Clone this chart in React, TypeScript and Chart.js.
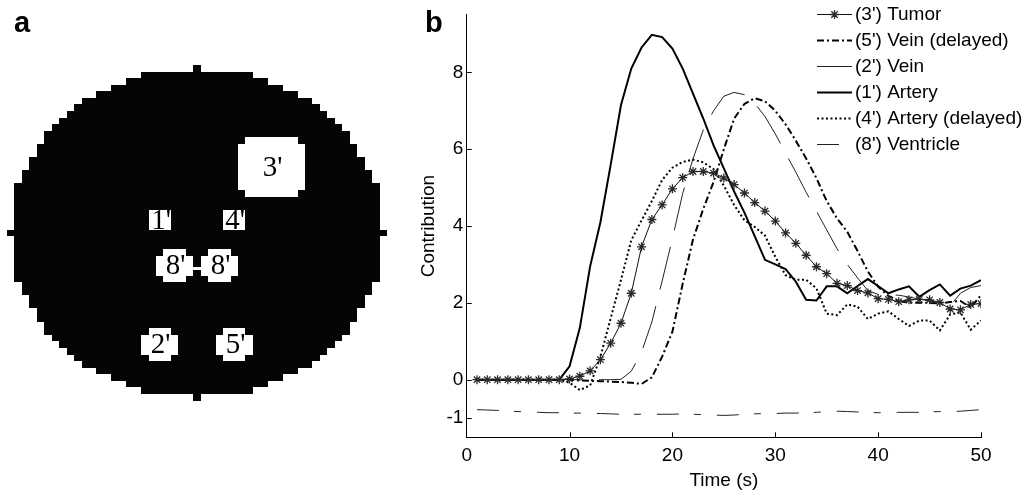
import { useEffect, useRef } from "react";
import { Chart, registerables } from "chart.js";

Chart.register(...registerables);

// ---------- Panel b: time courses ----------
const time = [
  1, 2, 3, 4, 5, 6, 7, 8, 9, 10, 11, 12, 13, 14, 15, 16, 17, 18, 19, 20, 21, 22, 23, 24, 25,
  26, 27, 28, 29, 30, 31, 32, 33, 34, 35, 36, 37, 38, 39, 40, 41, 42, 43, 44, 45, 46, 47, 48, 49, 50,
];

const tumor = [
  0, 0, 0, 0, 0, 0, 0, 0, 0, 0.02,
  0.09, 0.23, 0.52, 0.95, 1.47, 2.25, 3.46, 4.17, 4.55, 4.97,
  5.26, 5.42, 5.42, 5.38, 5.25, 5.08, 4.86, 4.61, 4.39, 4.13,
  3.82, 3.55, 3.24, 2.94, 2.76, 2.51, 2.45, 2.32, 2.26, 2.11,
  2.09, 2.03, 2.08, 2.09, 2.08, 2.01, 1.84, 1.82, 1.96, 1.98,
];

const veinDelayed = [
  0, 0, 0, 0, 0, 0, 0, 0, 0, 0,
  -0.02, -0.03, -0.04, -0.05, -0.06, -0.08, -0.11, 0.06, 0.6, 1.25,
  2.5, 3.65, 4.45, 5.15, 6.0, 6.8, 7.18, 7.33, 7.25, 7.0,
  6.65, 6.22, 5.76, 5.25, 4.65, 4.2, 3.85, 3.35, 2.82, 2.42,
  2.18, 2.05, 2.0, 2.0, 2.0, 1.99, 2.02, 2.05, 1.88, 2.2,
];

const vein = [
  0, 0, 0, 0, 0, 0, 0, 0, 0, 0,
  0, 0, 0, 0, 0.01, 0.22, 0.72, 1.5, 2.57, 3.67,
  4.85, 5.75, 6.5, 7.0, 7.38, 7.48, 7.42, 7.2, 6.85, 6.4,
  5.9, 5.4, 4.88, 4.39, 3.9, 3.41, 3.0, 2.65, 2.32, 2.22,
  2.2, 2.2, 2.15, 2.1, 2.05, 2.0, 1.92, 2.25, 2.4, 2.45,
];

const artery = [
  0, 0, 0, 0, 0, 0, 0, 0, 0, 0.35,
  1.35, 2.95, 4.1, 5.6, 7.15, 8.1, 8.65, 8.98, 8.92, 8.62,
  8.1, 7.45, 6.8, 6.1, 5.5, 4.9, 4.35, 3.74, 3.12, 3.0,
  2.88, 2.55, 2.08, 2.06, 2.43, 2.43, 2.25, 2.44, 2.62, 2.44,
  2.25, 2.35, 2.43, 2.16, 2.33, 2.48, 2.19, 2.37, 2.45, 2.59,
];

const arteryDelayed = [
  0, 0, 0, 0, 0, 0, 0, 0, 0, -0.08,
  -0.27, -0.15, 0.6, 1.6, 2.6, 3.63, 4.15, 4.65, 5.2, 5.52,
  5.67, 5.73, 5.66, 5.48, 5.05, 4.55, 4.15, 3.98, 3.75, 3.2,
  2.72, 2.6, 2.6, 2.38, 1.72, 1.68, 1.96, 1.9, 1.58, 1.72,
  1.78, 1.58, 1.4, 1.54, 1.54, 1.28, 1.7, 1.75, 1.3, 1.54,
];

const ventricle = [
  -0.78, -0.79, -0.8, -0.82, -0.83, -0.84, -0.85, -0.86, -0.86, -0.87,
  -0.87, -0.88, -0.88, -0.89, -0.9, -0.9, -0.9, -0.9, -0.9, -0.9,
  -0.89, -0.9, -0.91, -0.92, -0.93, -0.92, -0.9, -0.89, -0.88, -0.88,
  -0.87, -0.87, -0.86, -0.85, -0.83, -0.82, -0.83, -0.84, -0.85, -0.86,
  -0.86, -0.85, -0.85, -0.85, -0.84, -0.83, -0.83, -0.82, -0.8, -0.78,
];

const seriesLabels = [
  "(3') Tumor",
  "(5') Vein (delayed)",
  "(2') Vein",
  "(1') Artery",
  "(4') Artery (delayed)",
  "(8') Ventricle",
];

const xTickValues = [0, 10, 20, 30, 40, 50];
const yTickValues = [-1, 0, 2, 4, 6, 8];

// ---------- Panel a: region-of-interest map ----------
const GRID_SIZE = 51;
const DISC_RADIUS = 25;
const roiLabels = ["3'", "1'", "4'", "8'", "8'", "2'", "5'"];
const roiCols = [35, 20, 30, 22, 28, 20, 30];
const roiRows = [15, 23, 23, 30, 30, 42, 42];
const roiHalf = [4, 1, 1, 2, 2, 2, 2];

const SANS = '"Liberation Sans", Arial, Helvetica, sans-serif';
const SERIF = '"Liberation Serif", "Times New Roman", serif';

Chart.defaults.font.family = SANS;
Chart.defaults.color = "#000";

const pts = (vals: number[]) => vals.map((v, i) => ({ x: time[i], y: v }));

function drawStar(ctx: CanvasRenderingContext2D, x: number, y: number, r: number) {
  const d = r * Math.SQRT1_2;
  ctx.beginPath();
  ctx.moveTo(x - r, y);
  ctx.lineTo(x + r, y);
  ctx.moveTo(x, y - r);
  ctx.lineTo(x, y + r);
  ctx.moveTo(x - d, y - d);
  ctx.lineTo(x + d, y + d);
  ctx.moveTo(x - d, y + d);
  ctx.lineTo(x + d, y - d);
  ctx.stroke();
}

// Pixelated disc with white ROI blocks and their labels
const maskPlugin = {
  id: "roiMask",
  beforeDatasetsDraw(chart: any) {
    const { ctx, scales } = chart;
    const px = (c: number) => Math.round(scales.x.getPixelForValue(c));
    const py = (r: number) => Math.round(scales.y.getPixelForValue(r));
    const cell = (c: number, r: number, w = 1) =>
      ctx.fillRect(px(c), py(r), px(c + w) - px(c), py(r + 1) - py(r));

    ctx.save();
    ctx.fillStyle = "#050505";
    for (let r = 0; r < GRID_SIZE; r++) {
      const dy = r - DISC_RADIUS;
      const half = Math.floor(Math.sqrt(DISC_RADIUS * DISC_RADIUS - dy * dy));
      cell(DISC_RADIUS - half, r, 2 * half + 1);
    }

    ctx.fillStyle = "#fff";
    roiCols.forEach((cc, i) => {
      const h = roiHalf[i];
      const rr = roiRows[i];
      for (let dr = -h; dr <= h; dr++) {
        for (let dc = -h; dc <= h; dc++) {
          if (h >= 2 && Math.abs(dr) === h && Math.abs(dc) === h) continue;
          cell(cc + dc, rr + dr);
        }
      }
    });

    // thin bridge joining the two ventricle blocks
    const a = roiCols[3], b = roiCols[4];
    const midRow = roiRows[3] + 0.5;
    const bx0 = px(a + roiHalf[3] + 1);
    const bx1 = px(b - roiHalf[4]);
    const by = scales.y.getPixelForValue(midRow + 0.45);
    ctx.fillRect(bx0, Math.round(by - 2), bx1 - bx0, 3);

    // labels, clipped to their block
    ctx.fillStyle = "#000";
    ctx.textAlign = "center";
    ctx.textBaseline = "middle";
    roiLabels.forEach((lab, i) => {
      const h = roiHalf[i];
      const x0 = px(roiCols[i] - h);
      const x1 = px(roiCols[i] + h + 1);
      const y0 = py(roiRows[i] - h);
      const y1 = py(roiRows[i] + h + 1);
      ctx.save();
      ctx.beginPath();
      ctx.rect(x0, y0, x1 - x0, y1 - y0);
      ctx.clip();
      ctx.font = `29px ${SERIF}`;
      ctx.fillText(lab, (x0 + x1) / 2 + 1, (y0 + y1) / 2 + 1);
      ctx.restore();
    });

    ctx.font = `bold 29px ${SANS}`;
    ctx.textAlign = "left";
    ctx.textBaseline = "alphabetic";
    ctx.fillText("a", 14, 31.7);
    ctx.restore();
  },
};

// Tick marks drawn on the inside of the axes
const inwardTicksPlugin = {
  id: "inwardTicks",
  afterDraw(chart: any) {
    const { ctx, chartArea, scales } = chart;
    ctx.save();
    ctx.strokeStyle = "#000";
    ctx.lineWidth = 1;
    ctx.beginPath();
    xTickValues.forEach((v) => {
      if (v === 0) return;
      const x = Math.round(scales.x.getPixelForValue(v)) + 0.5;
      ctx.moveTo(x, chartArea.bottom);
      ctx.lineTo(x, chartArea.bottom - 5);
    });
    yTickValues.forEach((v) => {
      const y = Math.round(scales.y.getPixelForValue(v)) + 0.5;
      ctx.moveTo(chartArea.left, y);
      ctx.lineTo(chartArea.left + 5, y);
    });
    ctx.stroke();

    ctx.fillStyle = "#000";
    ctx.font = `bold 29px ${SANS}`;
    ctx.textBaseline = "alphabetic";
    ctx.fillText("b", 9, 31.7);
    ctx.restore();
  },
};

// Series key in the upper right of the plot
const KEY_X0 = 401;
const KEY_X1 = 436;
const KEY_TEXT_X = 439;
const KEY_TOP = 14;
const KEY_STEP = 26;

const keyPlugin = {
  id: "seriesKey",
  afterDraw(chart: any) {
    const { ctx } = chart;
    ctx.save();
    chart.data.datasets.forEach((ds: any, i: number) => {
      const y = Math.round(KEY_TOP + i * KEY_STEP) + 0.5;
      ctx.setLineDash(ds.borderDash || []);
      ctx.lineWidth = ds.borderWidth;
      ctx.strokeStyle = ds.borderColor;
      ctx.beginPath();
      ctx.moveTo(KEY_X0, y);
      ctx.lineTo(KEY_X1, y);
      ctx.stroke();
      ctx.setLineDash([]);
      if (ds.pointStyle === "star") {
        ctx.strokeStyle = ds.pointBorderColor;
        ctx.lineWidth = ds.pointBorderWidth;
        drawStar(ctx, (KEY_X0 + KEY_X1) / 2, y, ds.pointRadius);
      }
      ctx.fillStyle = "#000";
      ctx.font = `19px ${SANS}`;
      ctx.textBaseline = "middle";
      ctx.fillText(ds.label, KEY_TEXT_X, y);
    });
    ctx.restore();
  },
};

export default function App() {
  const mapRef = useRef<HTMLCanvasElement>(null);
  const plotRef = useRef<HTMLCanvasElement>(null);

  useEffect(() => {
    const mapChart = new Chart(mapRef.current as HTMLCanvasElement, {
      type: "scatter",
      data: { datasets: [] },
      options: {
        responsive: false,
        animation: false,
        devicePixelRatio: 1,
        layout: { padding: { left: 7, right: 33, top: 65, bottom: 95.4 } },
        plugins: { legend: { display: false }, tooltip: { enabled: false } },
        scales: {
          x: { type: "linear", min: 0, max: GRID_SIZE, display: false },
          y: { type: "linear", min: 0, max: GRID_SIZE, reverse: true, display: false },
        },
      },
      plugins: [maskPlugin],
    } as any);

    const line = { pointRadius: 0, tension: 0, fill: false };
    const plotChart = new Chart(plotRef.current as HTMLCanvasElement, {
      type: "line",
      data: {
        datasets: [
          {
            label: seriesLabels[0],
            data: pts(tumor),
            borderColor: "#111",
            borderWidth: 1,
            pointStyle: "star",
            pointRadius: 4.5,
            pointBorderColor: "#2a2a2a",
            pointBorderWidth: 1.3,
            pointBackgroundColor: "transparent",
            tension: 0,
            fill: false,
          },
          {
            ...line,
            label: seriesLabels[1],
            data: pts(veinDelayed),
            borderColor: "#000",
            borderWidth: 2,
            borderDash: [7, 3, 2, 3],
          },
          {
            ...line,
            label: seriesLabels[2],
            data: pts(vein),
            borderColor: "#222",
            borderWidth: 1,
            borderDash: [44, 17],
          },
          {
            ...line,
            label: seriesLabels[3],
            data: pts(artery),
            borderColor: "#000",
            borderWidth: 2,
          },
          {
            ...line,
            label: seriesLabels[4],
            data: pts(arteryDelayed),
            borderColor: "#000",
            borderWidth: 2,
            borderDash: [2, 2.5],
          },
          {
            ...line,
            label: seriesLabels[5],
            data: pts(ventricle),
            borderColor: "#222",
            borderWidth: 1,
            borderDash: [22, 15, 7, 16],
          },
        ],
      },
      options: {
        responsive: false,
        animation: false,
        devicePixelRatio: 1,
        layout: { padding: { left: 0, right: 49, top: 7, bottom: 0 } },
        plugins: { legend: { display: false }, tooltip: { enabled: false } },
        scales: {
          x: {
            type: "linear",
            min: 0,
            max: 50,
            afterBuildTicks: (s: any) => {
              s.ticks = xTickValues.map((v) => ({ value: v }));
            },
            afterFit: (s: any) => {
              s.height = 58.7;
            },
            grid: { display: false, drawTicks: false },
            border: { display: true, color: "#000", width: 1 },
            ticks: {
              color: "#000",
              font: { size: 19, family: SANS },
              padding: 7,
              maxRotation: 0,
              callback: (v: any) => String(v),
            },
            title: {
              display: true,
              text: "Time (s)",
              color: "#000",
              font: { size: 19, family: SANS },
              padding: { top: 0, bottom: 3.6 },
            },
          },
          y: {
            type: "linear",
            min: -1.5,
            max: 9.5,
            afterBuildTicks: (s: any) => {
              s.ticks = yTickValues.map((v) => ({ value: v }));
            },
            afterFit: (s: any) => {
              s.width = 50.7;
            },
            grid: { display: false, drawTicks: false },
            border: { display: true, color: "#000", width: 1 },
            ticks: {
              color: "#000",
              font: { size: 19, family: SANS },
              padding: 3.4,
              callback: (v: any) => String(v),
            },
            title: {
              display: true,
              text: "Contribution",
              color: "#000",
              font: { size: 19, family: SANS },
              padding: { top: 1.6, bottom: 0 },
            },
          },
        },
      },
      plugins: [inwardTicksPlugin, keyPlugin],
    } as any);

    return () => {
      mapChart.destroy();
      plotChart.destroy();
    };
  }, []);

  return (
    <div style={{ position: "absolute", left: 0, top: 0, width: 1030, height: 496, background: "#fff" }}>
      <canvas
        ref={mapRef}
        width={420}
        height={496}
        style={{ position: "absolute", left: 0, top: 0, width: 420, height: 496 }}
      />
      <canvas
        ref={plotRef}
        width={614}
        height={496}
        style={{ position: "absolute", left: 416, top: 0, width: 614, height: 496 }}
      />
    </div>
  );
}
